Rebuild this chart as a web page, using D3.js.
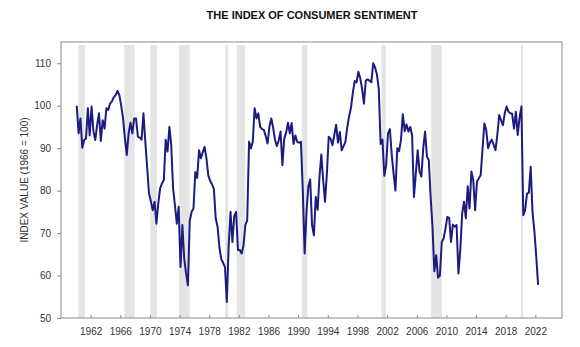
<!DOCTYPE html>
<html>
<head>
<meta charset="utf-8">
<script src="https://cdn.jsdelivr.net/npm/d3@7"></script>
<style>
body { margin: 0; background: #fff; }
svg { display: block; font-family: "Liberation Sans", Arial, sans-serif; }
</style>
</head>
<body>
<svg id="chart" width="580" height="347"></svg>
<script>
// quarterly index values, 1960 Q1 .. 2022 Q2
var startYear = 1960;
var sentiment = [
  100.0, 93.5, 97.0, 90.1,   // 1960
  91.9, 92.3, 99.4, 93.0,
  99.8, 94.0, 91.9, 95.5,
  98.2, 91.7, 96.6, 94.6,
  99.4, 99.0, 100.5, 101.0,
  102.0, 102.5, 103.5, 102.5, // 1965
  100.0, 97.0, 92.3, 88.4,
  93.5, 96.0, 93.5, 97.0,
  97.0, 92.7, 92.5, 92.0,
  98.2, 91.5, 85.5, 79.3,
  77.5, 75.4, 77.4, 72.2,     // 1970
  77.0, 80.5, 81.7, 82.5,
  92.0, 89.2, 95.0, 90.7,
  80.5, 76.5, 72.2, 76.2,
  62.0, 71.9, 64.0, 60.5,
  57.7, 72.9, 75.0, 75.8,     // 1975
  84.4, 83.0, 89.5, 87.6,
  89.0, 90.3, 87.6, 83.6,
  82.3, 81.5, 80.4, 73.5,
  71.5, 66.6, 63.9, 63.0,
  62.0, 53.8, 67.0, 75.0,     // 1980
  67.9, 74.0, 75.0, 66.0,
  66.0, 65.2, 67.1, 71.9,
  73.0, 91.5, 89.9, 91.5,
  99.4, 97.0, 98.2, 95.0,
  94.5, 94.3, 92.8, 91.1,     // 1985
  95.1, 97.0, 94.8, 92.0,
  90.5, 91.8, 93.9, 86.0,
  92.3, 93.6, 96.0, 93.5,
  95.9, 91.0, 93.0, 91.5,
  91.3, 91.5, 80.0, 65.2,     // 1990
  75.0, 81.0, 82.6, 71.9,
  69.5, 78.5, 75.5, 83.2,
  88.5, 82.5, 77.4, 84.0,
  92.7, 92.2, 90.7, 93.1,
  95.5, 91.3, 93.8, 89.5,     // 1995
  90.5, 91.5, 94.9, 97.5,
  99.5, 103.0, 105.8, 105.5,
  108.0, 106.5, 104.0, 100.5,
  105.9, 106.2, 105.9, 105.5,
  110.0, 109.0, 107.4, 104.0, // 2000
  91.0, 92.0, 83.5, 86.0,
  93.5, 94.5, 88.5, 84.0,
  80.0, 90.0, 89.3, 92.0,
  98.0, 94.0, 95.6, 93.9,
  95.0, 93.0, 78.5, 84.0,     // 2005
  89.5, 84.5, 83.3, 90.0,
  93.9, 88.0, 87.2, 78.5,
  71.5, 61.0, 64.8, 59.5,
  60.0, 67.9, 68.7, 71.0,
  73.8, 73.6, 67.9, 72.0,     // 2010
  71.5, 71.9, 60.5, 66.0,
  74.5, 77.4, 73.5, 81.0,
  75.8, 84.5, 82.5, 75.4,
  82.1, 82.9, 83.6, 89.8,
  95.8, 94.3, 90.0, 91.3,     // 2015
  92.0, 90.8, 89.5, 93.1,
  97.8, 96.6, 95.4, 98.2,
  99.8, 98.6, 98.2, 98.1,
  94.6, 98.6, 93.1, 97.2,
  99.8, 74.2, 75.4, 79.3,     // 2020
  79.5, 85.6, 74.8, 70.5,
  64.5, 57.8
];

// shaded recession periods (decimal years)
var recessions = [
  [1960.35, 1961.2], [1966.55, 1967.95], [1970.05, 1970.95], [1973.9, 1975.35],
  [1980.15, 1980.55], [1981.7, 1982.85], [1990.5, 1991.25], [2001.25, 2001.85],
  [2007.95, 2009.4], [2020.05, 2020.35]
];

var xTicks = [1962, 1966, 1970, 1974, 1978, 1982, 1986, 1990, 1994, 1998, 2002, 2006, 2010, 2014, 2018, 2022];
var yTicks = [50, 60, 70, 80, 90, 100, 110];

var svg = d3.select('#chart');
var plotL = 61, plotR = 562, plotT = 42, plotB = 318;

var x = d3.scaleLinear().domain([1958, 2025.6]).range([plotL, plotR]);
var y = d3.scaleLinear().domain([50, 115]).range([plotB, plotT]);

svg.append('text')
  .attr('x', 312).attr('y', 19)
  .attr('text-anchor', 'middle')
  .style('font-size', '11px').style('font-weight', 'bold').style('fill', '#111')
  .text('THE INDEX OF CONSUMER SENTIMENT');

svg.selectAll('rect.rec')
  .data(recessions)
  .enter().append('rect')
  .attr('class', 'rec')
  .attr('x', function(d) { return x(d[0]); })
  .attr('width', function(d) { return x(d[1]) - x(d[0]); })
  .attr('y', plotT + 3)
  .attr('height', plotB - plotT - 3)
  .attr('fill', '#e4e4e4');

var line = d3.line()
  .x(function(d, i) { return x(startYear + i / 4 + 0.125); })
  .y(function(d) { return y(d); });

svg.append('path')
  .datum(sentiment)
  .attr('d', line)
  .attr('fill', 'none')
  .attr('stroke', '#1c1c80')
  .attr('stroke-width', 2)
  .attr('stroke-linejoin', 'round');

// frame
svg.append('rect')
  .attr('x', plotL).attr('y', plotT)
  .attr('width', plotR - plotL).attr('height', plotB - plotT)
  .attr('fill', 'none').attr('stroke', '#8a8a8a').attr('stroke-width', 1);

var yAxis = svg.append('g')
  .attr('transform', 'translate(' + plotL + ',0)')
  .call(d3.axisLeft(y).tickValues(yTicks).tickSize(4).tickPadding(6));

var xAxis = svg.append('g')
  .attr('transform', 'translate(0,' + plotB + ')')
  .call(d3.axisBottom(x).tickValues(xTicks).tickFormat(d3.format('d')).tickSize(-3).tickPadding(10));

[yAxis, xAxis].forEach(function(g) {
  g.select('.domain').remove();
  g.selectAll('line').attr('stroke', '#8a8a8a');
  g.selectAll('text').style('font-size', '10px').style('fill', '#333')
    .style('font-family', '"Liberation Sans", Arial, sans-serif');
});

svg.append('text')
  .attr('transform', 'translate(24,180) rotate(-90)')
  .attr('text-anchor', 'middle')
  .attr('dy', '0.35em')
  .style('font-size', '10px').style('fill', '#333')
  .text('INDEX VALUE (1966 = 100)');
</script>
</body>
</html>
